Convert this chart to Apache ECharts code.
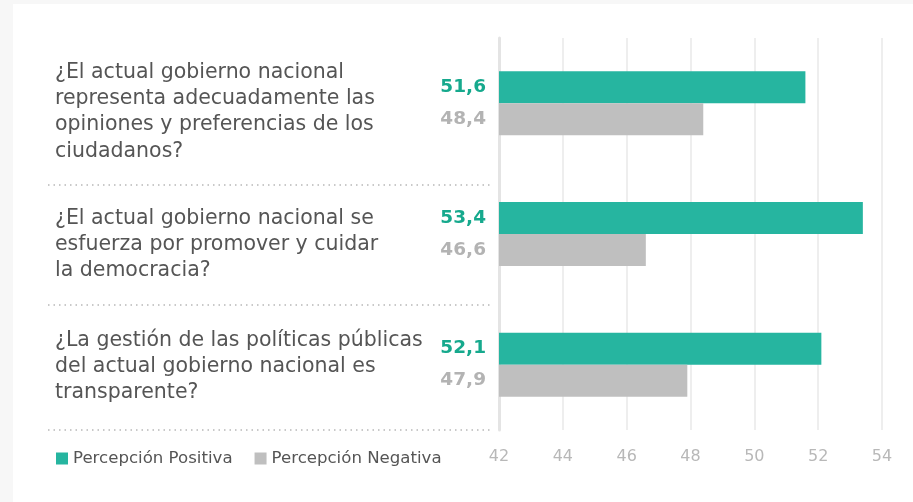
<!DOCTYPE html>
<html>
<head>
<meta charset="utf-8">
<script src="https://cdn.jsdelivr.net/npm/echarts@6/dist/echarts.min.js"></script>
<style>
    html, body{
        margin: 0;
        padding: 0;
        background: #f7f7f7;
        width: 913px;
        height: 502px;
        overflow: hidden;
    }
    #chartBox{
        position: absolute;
        left: 13px;
        top: 4px;
        width: 900px;
        height: 498px;
        background: #fff;
    }
</style>
</head>
<body>
<div id="chartBox"></div>
<script>
// data
const preguntas = [
    '¿El actual gobierno nacional\nrepresenta adecuadamente las\nopiniones y preferencias de los\nciudadanos?',
    '¿El actual gobierno nacional se\nesfuerza por promover y cuidar\nla democracia?',
    '¿La gestión de las políticas públicas\ndel actual gobierno nacional es\ntransparente?'
]
const positiva = [51.6, 53.4, 52.1]
const negativa = [48.4, 46.6, 47.9]
const xTicks = [42, 44, 46, 48, 50, 52, 54]

const fontName = 'DejaVu Sans'

let myChart = echarts.init(document.getElementById('chartBox'))

let coma = (p) => String(p.value).replace('.', ',')

myChart.setOption({
    animation: false,
    textStyle: {
        fontFamily: fontName
    },
    grid: {
        left: 486,
        right: 31,
        top: 34,
        bottom: 72,
        outerBoundsMode: 'none',
        containLabel: false
    },
    legend: {
        left: 38,
        top: 441,
        icon: 'rect',
        itemWidth: 12,
        itemHeight: 12,
        itemGap: 22,
        textStyle: {
            fontSize: 16.6,
            color: '#555',
            fontFamily: fontName
        },
        data: ['Percepción Positiva', 'Percepción Negativa']
    },
    xAxis: {
        type: 'value',
        min: xTicks[0],
        max: xTicks[xTicks.length - 1],
        interval: 2,
        axisLine: { show: false },
        axisTick: { show: false },
        axisLabel: {
            fontSize: 16,
            color: '#b8b8b8',
            margin: 19
        },
        splitLine: {
            lineStyle: {
                color: '#e8e8e8',
                width: 1.5
            }
        }
    },
    yAxis: {
        type: 'category',
        inverse: true,
        data: preguntas,
        axisLine: {
            show: true,
            lineStyle: {
                color: '#e4e4e4',
                width: 3
            }
        },
        axisTick: { show: false },
        axisLabel: {
            align: 'left',
            margin: 444,
            formatter: (val, i) => `{s${i}| }\n` + val.split('\n').map((l) => `{t|${l}}`).join('\n'),
            rich: {
                t: { fontSize: 20.5, lineHeight: 26.3, color: '#555', fontFamily: fontName },
                s0: { fontSize: 1, lineHeight: 17 },
                s1: { fontSize: 1, lineHeight: 21 },
                s2: { fontSize: 1, lineHeight: 4 }
            }
        }
    },
    graphic: [185, 305, 430].map((y) => ({
        type: 'line',
        shape: { x1: 35, y1: y - 4, x2: 479, y2: y - 4 },
        style: {
            stroke: '#b8b8b8',
            lineWidth: 1.4,
            lineDash: [1.5, 4]
        },
        silent: true
    })),
    series: [
        {
            name: 'Percepción Positiva',
            type: 'bar',
            data: positiva,
            barWidth: 32,
            barGap: '0%',
            itemStyle: { color: '#26b5a0' },
            label: {
                show: true,
                position: 'left',
                distance: 13,
                formatter: coma,
                color: '#16a98d',
                fontSize: 18.5,
                fontWeight: 'bold'
            }
        },
        {
            name: 'Percepción Negativa',
            type: 'bar',
            data: negativa,
            barWidth: 32,
            barGap: '0%',
            itemStyle: { color: '#bfbfbf' },
            label: {
                show: true,
                position: 'left',
                distance: 13,
                formatter: coma,
                color: '#b3b3b3',
                fontSize: 18.5,
                fontWeight: 'bold'
            }
        }
    ]
})
</script>
</body>
</html>
